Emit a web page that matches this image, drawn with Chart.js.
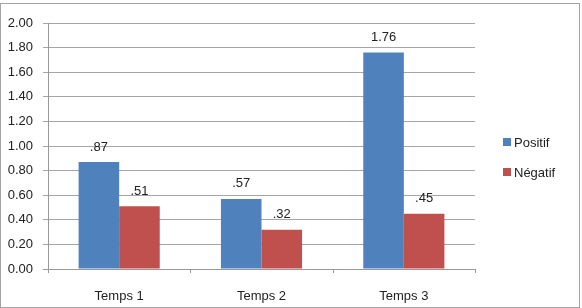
<!DOCTYPE html>
<html lang="fr">
<head>
  <meta charset="utf-8">
  <title>Positif / Négatif</title>
  <script src="https://cdn.jsdelivr.net/npm/chart.js@4.4.0/dist/chart.umd.min.js"></script>
  <style>
    html, body { margin: 0; padding: 0; background: #fff; }
    #wrap { position: relative; width: 582px; height: 308px; }
    #frame { position: absolute; left: 0; top: 3px; width: 578px; height: 303px; border: 1px solid #a3a3a3; pointer-events: none; }
  </style>
</head>
<body>
<div id="wrap">
  <canvas id="barChart" width="582" height="308"></canvas>
  <div id="frame"></div>
</div>
<script>
// chart data
var categories = ['Temps 1', 'Temps 2', 'Temps 3'];
var positif = [0.87, 0.57, 1.76];
var negatif = [0.51, 0.32, 0.45];
var seriesNames = ['Positif', 'Négatif'];
var seriesColors = ['#4F81BD', '#C0504D'];
var yTicks = [0, 0.2, 0.4, 0.6, 0.8, 1.0, 1.2, 1.4, 1.6, 1.8, 2.0];

var FONT = '"Liberation Sans", Arial, sans-serif';

function fmtValue(v) {
  var s = v.toFixed(2);
  if (v < 1) s = s.replace(/^0/, '');
  return s;
}

// value labels above each bar
var valueLabels = {
  id: 'valueLabels',
  afterDatasetsDraw: function(chart) {
    var ctx = chart.ctx;
    ctx.save();
    ctx.font = '13px ' + FONT;
    ctx.fillStyle = '#222';
    ctx.textAlign = 'center';
    ctx.textBaseline = 'middle';
    chart.data.datasets.forEach(function(ds, i) {
      var meta = chart.getDatasetMeta(i);
      meta.data.forEach(function(bar, j) {
        ctx.fillText(fmtValue(ds.data[j]), bar.x, bar.y - 15);
      });
    });
    ctx.restore();
  }
};

// axis lines + small tick marks between categories
var axisLines = {
  id: 'axisLines',
  afterDraw: function(chart) {
    var ctx = chart.ctx;
    var xs = chart.scales.x;
    var area = chart.chartArea;
    var step = (area.right - area.left) / categories.length;
    ctx.save();
    ctx.strokeStyle = '#999';
    ctx.lineWidth = 1;
    ctx.beginPath();
    ctx.moveTo(area.left + 0.5, area.top);
    ctx.lineTo(area.left + 0.5, area.bottom);
    ctx.moveTo(area.left - 5, area.bottom + 0.5);
    ctx.lineTo(area.right, area.bottom + 0.5);
    for (var i = 0; i <= categories.length; i++) {
      var x = Math.round(xs.getPixelForValue(i) - step / 2) + 0.5;
      ctx.moveTo(x, area.bottom);
      ctx.lineTo(x, area.bottom + 4);
    }
    ctx.stroke();
    ctx.restore();
  }
};

// legend on the right
var sideLegend = {
  id: 'sideLegend',
  afterDraw: function(chart) {
    var ctx = chart.ctx;
    ctx.save();
    ctx.font = '13px ' + FONT;
    ctx.textBaseline = 'middle';
    chart.data.datasets.forEach(function(ds, i) {
      var y = 142 + i * 30;
      ctx.fillStyle = ds.backgroundColor;
      ctx.fillRect(503, y - 4, 8, 8);
      ctx.fillStyle = '#222';
      ctx.fillText(ds.label, 514, y + 1);
    });
    ctx.restore();
  }
};

var ctx = document.getElementById('barChart').getContext('2d');
var mychart = new Chart(ctx, {
  type: 'bar',
  data: {
    labels: categories,
    datasets: [
      { label: seriesNames[0], data: positif, backgroundColor: seriesColors[0] },
      { label: seriesNames[1], data: negatif, backgroundColor: seriesColors[1] }
    ]
  },
  options: {
    responsive: false,
    animation: false,
    devicePixelRatio: 1,
    layout: { padding: { top: 23, right: 107, bottom: 0, left: 0 } },
    datasets: { bar: { categoryPercentage: 0.57, barPercentage: 1 } },
    plugins: {
      legend: { display: false },
      tooltip: { enabled: false }
    },
    scales: {
      x: {
        offset: true,
        grid: { display: false },
        border: { display: false },
        ticks: { font: { family: FONT, size: 13 }, color: '#222', padding: 12 },
        afterFit: function(scale) { scale.height = 39; }
      },
      y: {
        min: 0,
        max: 2,
        afterBuildTicks: function(scale) {
          scale.ticks = yTicks.map(function(v) { return { value: v }; });
        },
        grid: { color: '#a6a6a6', tickLength: 5 },
        border: { display: false },
        ticks: {
          font: { family: FONT, size: 13 },
          color: '#222',
          padding: 10,
          callback: function(v) { return Number(v).toFixed(2); }
        },
        afterFit: function(scale) { scale.width = 48; }
      }
    }
  },
  plugins: [valueLabels, axisLines, sideLegend]
});
</script>
</body>
</html>
